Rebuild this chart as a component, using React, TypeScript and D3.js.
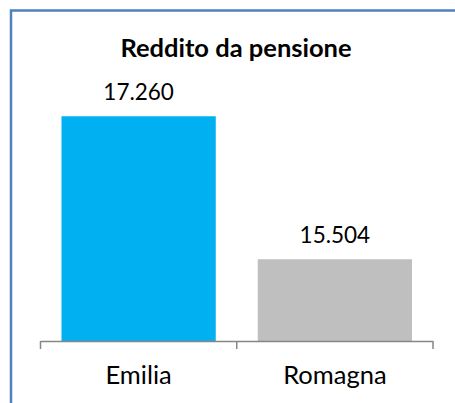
import React from "react";
import * as d3 from "d3";

const categories = ["Emilia", "Romagna"];
const values = [17260, 15504];
const valueLabels = ["17.260", "15.504"];
const barColors = ["#00B0F0", "#BFBFBF"];
const yDomain = [14500, 18000];
const title = "Reddito da pensione";

export default function App() {
  const W = 455, H = 403;
  const x = d3.scaleBand<string>().domain(categories).range([40.5, 433]).paddingInner(0.214).paddingOuter(0.107);
  const y = d3.scaleLinear().domain(yDomain).range([341, 56]);
  const font = "Lato, 'Open Sans', sans-serif";
  const stepAll = (x.range()[1] - x.range()[0]) / categories.length;
  const tickXs = d3.range(categories.length + 1).map((i) => x.range()[0] + stepAll * i);
  return (
    <svg width={W} height={H} style={{ position: "absolute", left: 0, top: 0, background: "#fff" }}>
      <rect x={11} y={10.5} width={W + 20} height={H + 20} fill="#fff" stroke="#4F81BD" strokeWidth={2.5} />
      <text x={236} y={57} textAnchor="middle" fontFamily={font} fontWeight="bold" fontSize={25.5} fill="#000">{title}</text>
      {categories.map((c, i) => (
        <g key={c}>
          <rect x={x(c)} y={y(values[i])} width={x.bandwidth()} height={y(yDomain[0]) - y(values[i])} fill={barColors[i]} />
          <text x={x(c)! + x.bandwidth() / 2} y={y(values[i]) - 16} textAnchor="middle" fontFamily={font} fontSize={22.5} fill="#000">{valueLabels[i]}</text>
          <text x={x(c)! + x.bandwidth() / 2} y={384} textAnchor="middle" fontFamily={font} fontSize={25.5} fill="#000">{c}</text>
        </g>
      ))}
      <line x1={tickXs[0]} x2={tickXs[tickXs.length - 1]} y1={341.5} y2={341.5} stroke="#868686" strokeWidth={1.5} />
      {tickXs.map((t, i) => (
        <line key={i} x1={t} x2={t} y1={341} y2={349} stroke="#868686" strokeWidth={1.5} />
      ))}
    </svg>
  );
}
